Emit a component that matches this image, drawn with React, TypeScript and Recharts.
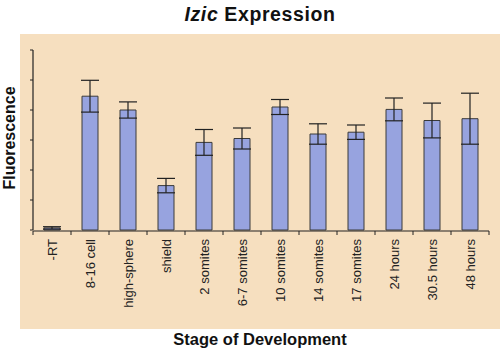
import { BarChart, Bar, XAxis, YAxis, ErrorBar } from 'recharts'

const stages = [
  '-RT',
  '8-16 cell',
  'high-sphere',
  'shield',
  '2 somites',
  '6-7 somites',
  '10 somites',
  '14 somites',
  '17 somites',
  '24 hours',
  '30.5 hours',
  '48 hours',
]
const fluorescence = [0.07, 4.46, 4.0, 1.48, 2.92, 3.05, 4.1, 3.2, 3.26, 4.02, 3.65, 3.71]
const errors = [0.04, 0.53, 0.27, 0.24, 0.43, 0.35, 0.25, 0.34, 0.24, 0.38, 0.58, 0.85]
const yTicks = [0, 1, 2, 3, 4, 5, 6]
const edgeTicks = [0, 1, 2, 3, 4, 5, 6, 7, 8, 9, 10, 11, 12]

const data = stages.map((stage, i) => ({
  stage,
  idx: i + 0.5,
  value: fluorescence[i],
  err: errors[i],
}))

const FONT = 'Arial, "Liberation Sans", Helvetica, sans-serif'

function StageTick({ x, y, payload }: any) {
  return (
    <text
      x={x}
      y={y}
      dy={4.5}
      transform={`rotate(-90, ${x}, ${y})`}
      textAnchor="end"
      fontSize={13}
      fontFamily={FONT}
      fill="#222"
    >
      {payload.value}
    </text>
  )
}

export default function App() {
  return (
    <div style={{ position: 'absolute', left: 0, top: 0, width: 500, height: 352, background: '#fff', fontFamily: FONT }}>
      <div style={{ position: 'absolute', left: 20, top: 34, width: 480, height: 295, background: '#f6dfbf' }} />
      <div
        style={{
          position: 'absolute',
          left: 20,
          width: 480,
          top: 3,
          textAlign: 'center',
          fontSize: 19.5,
          letterSpacing: 0.6,
          fontWeight: 'bold',
          color: '#111',
        }}
      >
        <i>Izic</i> Expression
      </div>
      <div
        style={{
          position: 'absolute',
          left: 20,
          width: 480,
          top: 330,
          textAlign: 'center',
          fontSize: 16.5,
          fontWeight: 'bold',
          color: '#111',
        }}
      >
        Stage of Development
      </div>
      <div
        style={{
          position: 'absolute',
          left: 10,
          top: 138,
          transform: 'translate(-50%, -50%) rotate(-90deg)',
          fontSize: 16,
          fontWeight: 'bold',
          color: '#111',
          whiteSpace: 'nowrap',
        }}
      >
        Fluorescence
      </div>
      <div style={{ position: 'absolute', left: 0, top: 0 }}>
        <BarChart
          width={500}
          height={352}
          data={data}
          margin={{ top: 50, right: 11, bottom: 0, left: 0 }}
          barCategoryGap={0}
        >
          <XAxis
            dataKey="stage"
            interval={0}
            axisLine={false}
            tickLine={false}
            tickSize={0}
            tickMargin={9}
            height={1}
            tick={<StageTick />}
          />
          <XAxis
            xAxisId="edges"
            type="number"
            dataKey="idx"
            domain={[0, 12]}
            ticks={edgeTicks}
            tickFormatter={() => ''}
            tickSize={4}
            height={121}
            axisLine={{ stroke: '#222', strokeWidth: 1.2 }}
            tickLine={{ stroke: '#222' }}
          />
          <YAxis
            domain={[0, 6]}
            ticks={yTicks}
            tickFormatter={() => ''}
            tickSize={3}
            width={33}
            axisLine={{ stroke: '#222', strokeWidth: 1.2 }}
            tickLine={{ stroke: '#222' }}
          />
          <Bar
            dataKey="value"
            barSize={16}
            fill="#97a3df"
            stroke="#3a3a3a"
            strokeWidth={1}
            isAnimationActive={false}
          >
            <ErrorBar dataKey="err" width={9} stroke="#222" strokeWidth={1.2} />
          </Bar>
        </BarChart>
      </div>
    </div>
  )
}
